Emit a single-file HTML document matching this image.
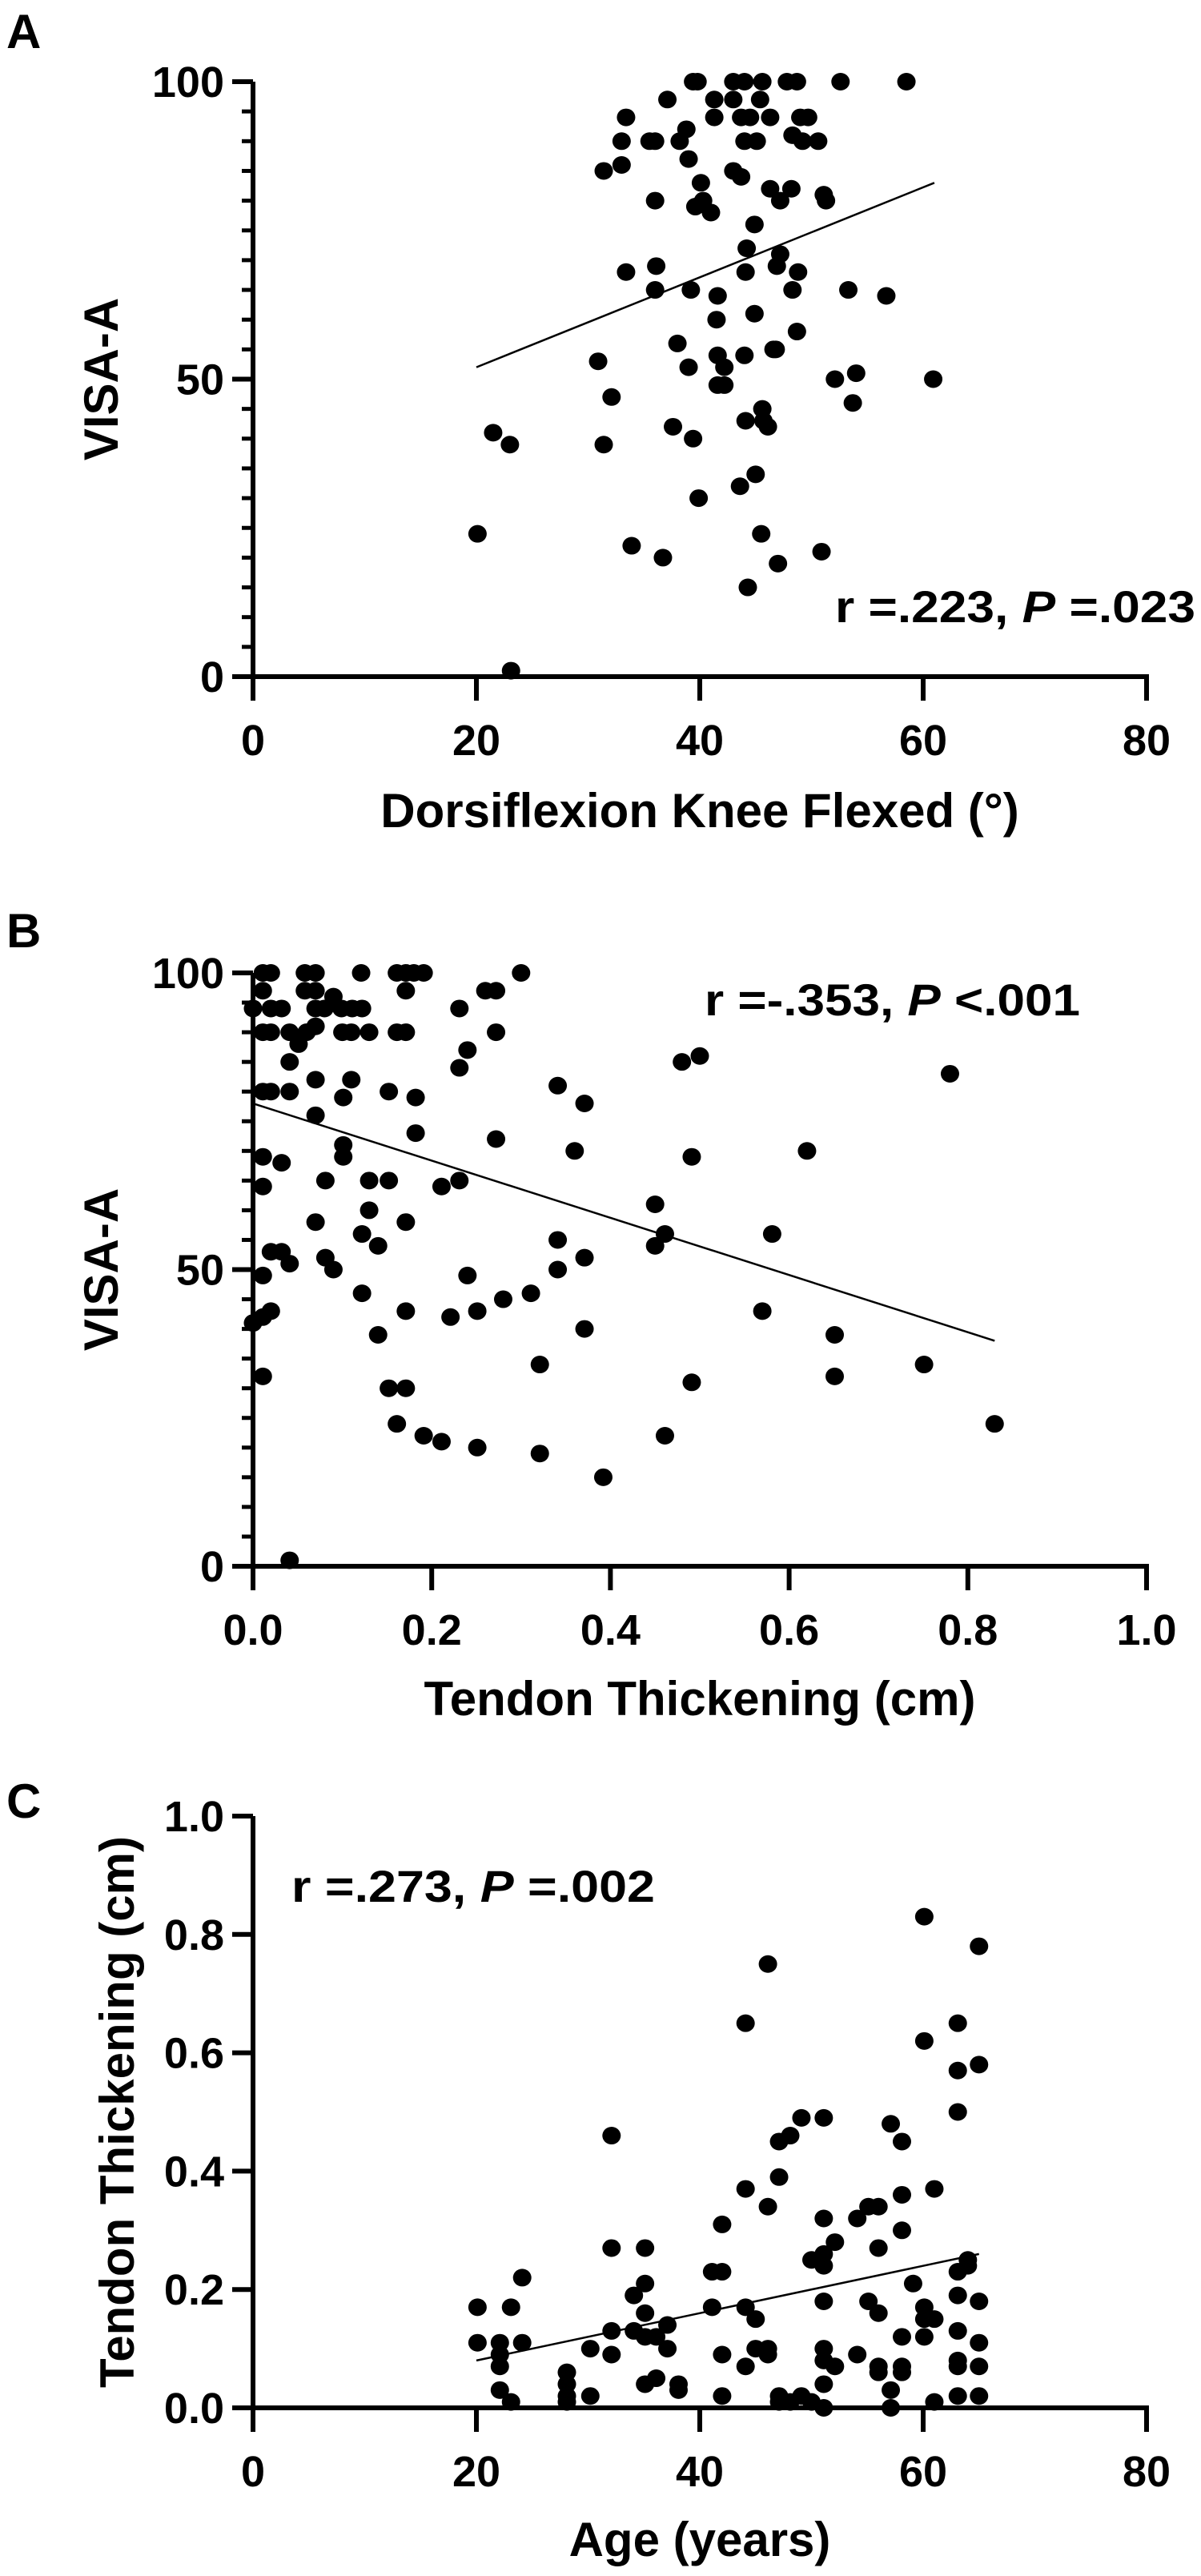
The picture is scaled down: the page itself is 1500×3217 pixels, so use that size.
<!DOCTYPE html>
<html><head><meta charset="utf-8"><style>
html,body{margin:0;padding:0;background:#fff}
svg{display:block}
text{font-family:"Liberation Sans",Arial,sans-serif;font-weight:bold;fill:#000}
</style></head><body>
<svg id="fig" width="1500" height="3217" viewBox="0 0 1500 3217" xmlns="http://www.w3.org/2000/svg"></svg>
<script>
// Panel A data: Dorsiflexion vs VISA-A
const aX = [39.4,39.8,43,44,45.6,47.8,48.7,52.6,58.5,37.1,41.3,43,45.4,33.4,41.3,43.7,44.5,46.3,49,49.7,38.8,48.3,49.2,33,35.5,36,38.2,44,45.1,50.6,39,33,31.4,43,43.7,40.1,46.3,48.2,40.3,36,47.2,51.1,51.3,39.6,41,44.9,44.2,47.2,46.9,36.1,44.1,33.4,48.8,36,39.2,53.3,48.3,41.6,56.7,44.9,41.5,48.7,38,46.8,46.6,41.6,44,30.9,39,42.2,52.1,54,60.9,41.6,42.2,32.1,53.7,45.6,44.1,45.7,46.1,37.6,21.5,39.4,23,31.4,45,43.6,39.9,20.1,45.5,33.9,50.9,36.7,47,44.3,23.1];
const aY = [100,100,100,100,100,100,100,100,100,97,97,97,97,94,94,94,94,94,94,94,92,91,90,90,90,90,90,90,90,90,87,86,85,85,84,83,82,82,80,80,80,81,80,79,78,76,72,71,69,69,68,68,68,65,65,65,65,64,64,61,60,58,56,55,55,54,54,53,52,52,50,51,50,49,49,47,46,45,43,43,42,42,41,40,39,39,34,32,30,24,24,22,21,20,19,15,1];
const aFit = [[20,52],[61,83]];
const aXTicks = [0,20,40,60,80];
const aYTicks = [0,50,100];

// Panel B data: Tendon thickening vs VISA-A
const bX = [.011,.02,.058,.07,.121,.161,.171,.18,.191,.3,.011,.058,.07,.171,.26,.272,0,.02,.032,.07,.08,.09,.099,.111,.122,.231,.011,.02,.041,.06,.07,.1,.11,.13,.161,.171,.272,.051,.24,.231,.041,.011,.02,.041,.07,.11,.101,.152,.182,.341,.371,.07,.182,.272,.101,.101,.36,.491,.62,.011,.032,.011,.081,.13,.152,.211,.231,.13,.45,.07,.171,.122,.461,.581,.14,.45,.341,.02,.032,.081,.371,.041,.09,.341,.011,.24,.122,.311,.28,.02,.011,0,.171,.221,.251,.57,.371,.14,.651,.321,.751,.011,.651,.491,.152,.171,.161,.83,.191,.461,.211,.251,.321,.392,.041,.5,.48,.78];
const bY = [100,100,100,100,100,100,100,100,100,100,97,97,97,97,97,97,94,94,94,94,94,96,94,94,94,94,90,90,90,90,91,90,90,90,90,90,90,88,87,84,85,80,80,80,82,82,79,80,79,81,78,76,73,72,71,69,70,69,70,69,68,64,65,65,65,64,65,60,61,58,58,56,56,56,54,54,55,53,53,52,52,51,50,50,49,49,46,46,45,43,42,41,43,42,43,43,40,39,39,34,34,32,32,31,30,30,24,24,22,22,21,20,19,15,1,86,85,83];
const bFit = [[0,78],[0.83,38]];
const bXTicks = ["0.0","0.2","0.4","0.6","0.8","1.0"];
const bYTicks = [0,50,100];

// Panel C data: Age vs Tendon thickening
const cX = [20.1,20.1,22.1,22.1,22.1,22.1,23.1,23.1,24.1,24.1,28.1,28.1,28.1,28.1,30.2,30.2,32.1,32.1,32.1,32.1,34.1,34.1,35.1,35.1,35.1,35.1,35.1,36.1,36.1,37.1,37.1,38.1,38.1,41.1,42,42,41.1,42,42,44.1,44.1,44.1,44.1,45,45,46.1,46.1,46.1,46.1,47.1,47.1,47.1,47.1,48.1,48.1,49.1,49.1,50,50,51.1,51.1,51.1,51.1,51.1,51.1,51.1,51.1,51.1,52.1,52.1,54.1,54.1,55.1,55.1,56,56,56,56,56,57.1,57.1,57.1,58.1,58.1,58.1,58.1,58.1,58.1,59.1,60.1,60.1,60.1,60.1,60.1,61,61,61,63.1,63.1,63.1,63.1,63.1,63.1,63.1,63.1,63.1,64,64,65,65,65,65,65,65];
const cY = [.17,.11,.11,.09,.07,.03,.17,.01,.11,.22,.06,.04,.02,.01,.10,.02,.46,.27,.13,.09,.19,.13,.27,.21,.16,.12,.04,.12,.05,.14,.10,.04,.03,.23,.23,.31,.17,.09,.02,.65,.37,.17,.07,.15,.10,.75,.34,.10,.09,.39,.45,.02,.01,.46,.01,.49,.02,.25,.01,.49,.32,.26,.24,.18,.10,.08,.04,0,.28,.07,.32,.09,.34,.18,.34,.27,.16,.07,.06,.48,.03,0,.45,.36,.30,.12,.07,.06,.21,.83,.62,.17,.15,.12,.37,.15,.01,.65,.57,.50,.23,.19,.13,.08,.07,.02,.25,.24,.78,.58,.18,.11,.07,.02];
const cFit = [[20,0.08],[65,0.26]];
const cXTicks = [0,20,40,60,80];
const cYTicks = ["0.0","0.2","0.4","0.6","0.8","1.0"];

const NS = "http://www.w3.org/2000/svg";
const svg = document.getElementById('fig');
function mk(tag, attrs, parent){ const e=document.createElementNS(NS,tag); for(const k in attrs) e.setAttribute(k,attrs[k]); (parent||svg).appendChild(e); return e; }

function panel(o){
  const g = mk('g',{});
  
  
  const sx = v => o.x0 + (v - o.xmin)/(o.xmax - o.xmin)*(o.x1 - o.x0);
  const sy = v => o.y0 - (v - o.ymin)/(o.ymax - o.ymin)*(o.y0 - o.y1);
  const L = mk('text',{x:8,y:o.letterY,'font-size':60},g); L.textContent=o.letter;
  
  
  const ya = mk('line',{x1:o.x0,y1:o.y1,x2:o.x0,y2:o.y0+3,stroke:'#000','stroke-width':6},g);
  
  
  const xa = mk('line',{x1:o.x0-3,y1:o.y0,x2:o.x1+3,y2:o.y0,stroke:'#000','stroke-width':6},g);
  
  
  if(o.minor){
    for(let v=o.ymin; v<=o.ymax+1e-9; v+=o.minor){
      mk('line',{x1:o.x0-14,y1:sy(v),x2:o.x0,y2:sy(v),stroke:'#000','stroke-width':5},g);
    }
  }
  o.yTicks.forEach(t=>{
    const v=parseFloat(t);
    mk('line',{x1:o.x0-26,y1:sy(v),x2:o.x0,y2:sy(v),stroke:'#000','stroke-width':6},g);
    const tx=mk('text',{x:o.x0-36,y:sy(v)+19,'font-size':54,'text-anchor':'end'},g); tx.textContent=t;
    
    
  });
  o.xTicks.forEach(t=>{
    const v=parseFloat(t);
    mk('line',{x1:sx(v),y1:o.y0,x2:sx(v),y2:o.y0+30,stroke:'#000','stroke-width':6},g);
    const tx=mk('text',{x:sx(v),y:o.y0+98,'font-size':54,'text-anchor':'middle'},g); tx.textContent=t;
    
    
  });
  const xt=mk('text',{x:(o.x0+o.x1)/2,y:o.y0+o.xtOff,'font-size':60,'text-anchor':'middle'},g); xt.textContent=o.xTitle;
  
  
  const yc=(o.y0+o.y1)/2;
  const yt=mk('text',{x:0,y:0,'font-size':60,'text-anchor':'middle',transform:`translate(${o.ytX},${yc}) rotate(-90)`},g); yt.textContent=o.yTitle;
  
  
  o.xs.forEach((xv,i)=>{
    const c=mk('ellipse',{cx:sx(xv),cy:sy(o.ys[i]),rx:11.5,ry:11,fill:'#000'},g);
    
    
  });
  const f=mk('line',{x1:sx(o.fit[0][0]),y1:sy(o.fit[0][1]),x2:sx(o.fit[1][0]),y2:sy(o.fit[1][1]),stroke:'#000','stroke-width':2.5},g);
  
  
  const an=mk('text',{x:o.annX,y:o.annY,'font-size':56,textLength:o.annW,lengthAdjust:'spacingAndGlyphs'},g);
  
  
  const s1=mk('tspan',{},an); s1.textContent=o.ann[0];
  const s2=mk('tspan',{'font-style':'italic'},an); s2.textContent='P';
  const s3=mk('tspan',{},an); s3.textContent=o.ann[1];
}

panel({name:'panel-a',letter:'A',letterY:60,x0:316,x1:1432,y0:845,y1:102,xmin:0,xmax:80,ymin:0,ymax:100,minor:5,
  xTicks:aXTicks,yTicks:aYTicks,xs:aX,ys:aY,fit:aFit,xTitle:'Dorsiflexion Knee Flexed (°)',yTitle:'VISA-A',xtOff:188,ytX:147,
  ann:['r =.223, ',' =.023'],annX:1043,annY:777,annW:450});
panel({name:'panel-b',letter:'B',letterY:1183,x0:316,x1:1432,y0:1956,y1:1215,xmin:0,xmax:1,ymin:0,ymax:100,minor:5,
  xTicks:bXTicks,yTicks:bYTicks,xs:bX,ys:bY,fit:bFit,xTitle:'Tendon Thickening (cm)',yTitle:'VISA-A',xtOff:186,ytX:147,
  ann:['r =-.353, ',' <.001'],annX:880,annY:1268,annW:469});
panel({name:'panel-c',letter:'C',letterY:2270,x0:316,x1:1432,y0:3007,y1:2268,xmin:0,xmax:80,ymin:0,ymax:1,minor:0,
  xTicks:cXTicks,yTicks:cYTicks,xs:cX,ys:cY,fit:cFit,xTitle:'Age (years)',yTitle:'Tendon Thickening (cm)',xtOff:185,ytX:167,
  ann:['r =.273, ',' =.002'],annX:364,annY:2375,annW:454});
</script>
</body></html>
